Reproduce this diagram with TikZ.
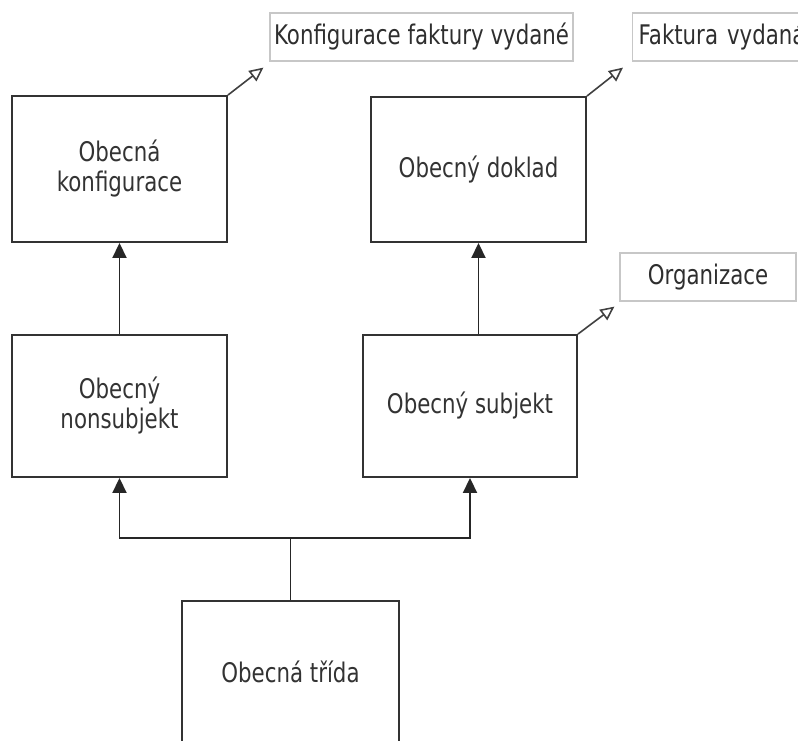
\documentclass[tikz,border=0pt]{standalone}
\usepackage{fontspec}
\usetikzlibrary{arrows.meta}
\newfontfamily\diagfont[FakeStretch=0.79]{DejaVu Sans}
\begin{document}
\begin{tikzpicture}[x=1pt,y=-1pt,
  font=\diagfont\fontsize{27pt}{30pt}\selectfont,
  classbox/.style={draw=black!80,line width=1.9pt,text=black!80,
    inner sep=0pt,align=center,minimum width=215pt},
  notebox/.style={draw=black!22,line width=1.2pt,text=black!82,
    inner sep=0pt,minimum height=48pt},
  link/.style={draw=black!85,line width=1.9pt},
  inherit/.style={link,-{Triangle[length=15pt,width=14pt]}},
  realize/.style={draw=black!75,line width=1.6pt,
    -{Triangle[open,length=14pt,width=13pt,fill=white]}}]
  \useasboundingbox (0,0) rectangle (798,740);
  \clip (0,0) rectangle (798,740);

  % class boxes
  \node[classbox,minimum height=146pt] (conf) at (119.5,169)
    {Obecná\\konfigurace};
  \node[classbox,minimum height=145pt] (doc) at (478.5,169.5)
    {Obecný doklad};
  \node[classbox,minimum height=142pt] (nonsub) at (119.5,406)
    {Obecný\\nonsubjekt};
  \node[classbox,minimum width=214pt,minimum height=142pt] (sub) at (470,406)
    {Obecný subjekt};
  \node[classbox,minimum width=217pt,minimum height=142pt] (base) at (290.5,672)
    {Obecná třída};

  % interface notes
  \node[notebox,minimum width=303pt] (nconf) at (421.5,37)
    {Konfigurace faktury vydané};
  \node[notebox,minimum width=200pt,anchor=west,text width=188pt,align=left]
    (ndoc) at (632,37) {Faktura vydaná};
  \node[notebox,minimum width=176pt] (norg) at (708,277) {Organizace};

  % inheritance
  \coordinate (split) at (290.5,538);
  \draw[link] (base.north) -- (split);
  \draw[inherit] (split) -| (nonsub.south);
  \draw[inherit] (split) -| (sub.south);
  \draw[inherit] (nonsub.north) -- (conf.south);
  \draw[inherit] (doc.south |- sub.north) -- (doc.south);

  % realizations
  \draw[realize] (conf.north east) -- ([shift={(-6,6)}]nconf.south west);
  \draw[realize] (doc.north east) -- ([shift={(-9,6)}]ndoc.south west);
  \draw[realize] (sub.north east) -- ([shift={(-5,5)}]norg.south west);
\end{tikzpicture}
\end{document}
